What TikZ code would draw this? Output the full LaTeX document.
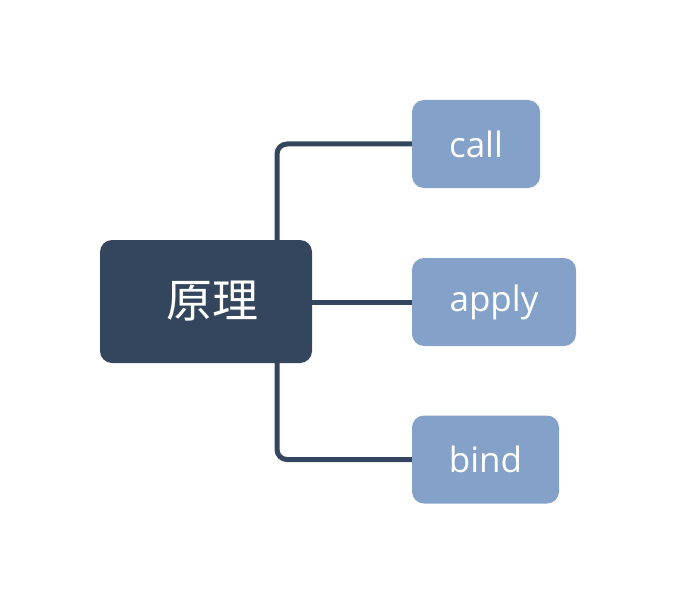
\documentclass[tikz,border=0pt]{standalone}
\usepackage{fontspec}
\setmainfont{Open Sans}
\newfontfamily\cjk{Noto Sans CJK SC}
\usetikzlibrary{positioning,calc}
\definecolor{rootcol}{RGB}{52,70,94}
\definecolor{leafcol}{RGB}{132,162,201}
\tikzset{root/.style={
    fill=rootcol, text=white, rounded corners=12pt,
    minimum width=212pt, minimum height=123pt,
    font=\cjk\fontsize{46}{52}\selectfont
    },
    leaf/.style={
    fill=leafcol, text=white, rounded corners=12pt,
    minimum height=88pt,
    font=\fontsize{35}{42}\selectfont
    },
    link/.style={draw=rootcol, line width=5pt, rounded corners=10pt}
}
\begin{document}
\begin{tikzpicture}[x=1pt,y=-1pt]
	\useasboundingbox (0,0) rectangle (676,604);
	\node[root] (P0) at (206,301.5) {\hspace{12pt}原理};
	\node[leaf,minimum width=128pt] (P1) at (476,144) {call};
	\node[leaf,minimum width=164pt] (P2) at (494,302) {apply};
	\node[leaf,minimum width=147pt] (P3) at (485.5,459.5) {bind};
	\draw[link] ($(P0.north)+(71,0)$) |- (P1.west);
	\draw[link] (P0.east |- P2.west) -- (P2.west);
	\draw[link] ($(P0.south)+(71,0)$) |- (P3.west);
\end{tikzpicture}
\end{document}
